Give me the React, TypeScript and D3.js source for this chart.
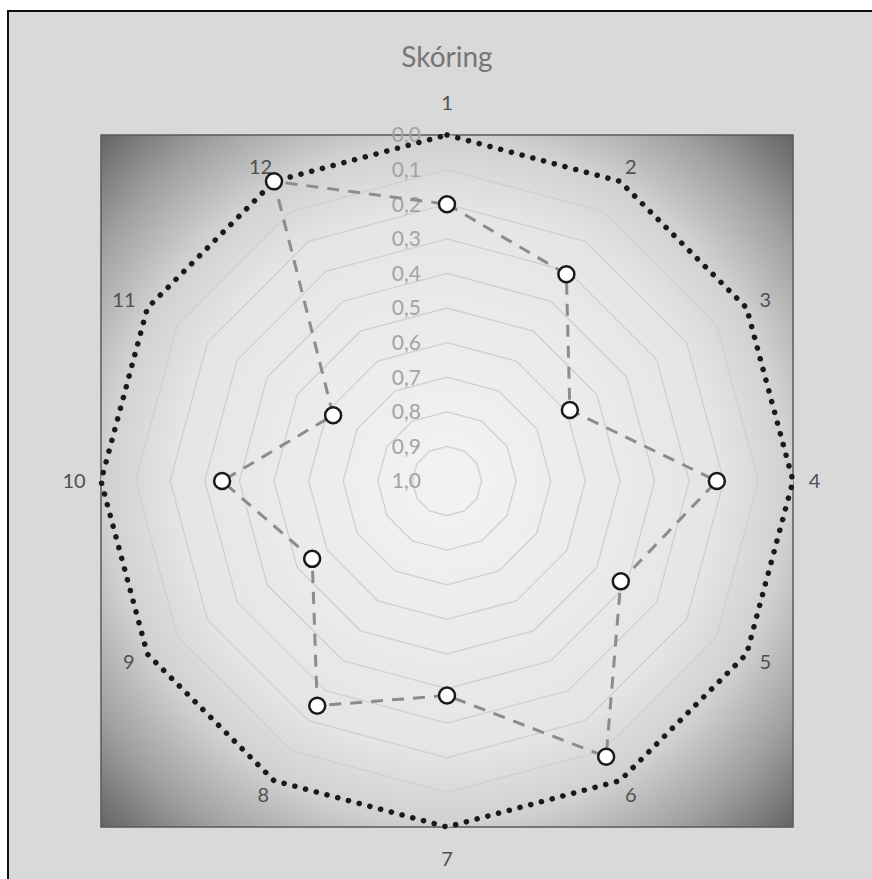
import React from "react";
import * as d3 from "d3";

const categories = ["1", "2", "3", "4", "5", "6", "7", "8", "9", "10", "11", "12"];
const scores = [0.2, 0.31, 0.59, 0.22, 0.42, 0.08, 0.38, 0.25, 0.55, 0.35, 0.62, 0.0];
const baseline = [0, 0, 0, 0, 0, 0, 0, 0, 0, 0, 0, 0];
const ticks = [0, 0.1, 0.2, 0.3, 0.4, 0.5, 0.6, 0.7, 0.8, 0.9, 1.0];
const title = "Skóring";

const W = 872;
const H = 879;
const cx = 447;
const cy = 481;
const R = 346;
const font = "Lato, 'Open Sans', 'DejaVu Sans', sans-serif";

export default function App() {
  // reversed radial axis: 0 sits on the rim, 1 in the centre
  const r = d3.scaleLinear().domain([0, 1]).range([R, 0]);
  const angle = d3
    .scalePoint<string>()
    .domain(categories)
    .range([0, 2 * Math.PI - (2 * Math.PI) / categories.length]);

  const pt = (cat: string, v: number): [number, number] => {
    const a = angle(cat)!;
    return [cx + r(v) * Math.sin(a), cy - r(v) * Math.cos(a)];
  };

  const closed = d3.line<[number, number]>().curve(d3.curveLinearClosed);
  const ringPath = (v: number) => closed(categories.map((c) => pt(c, v)));

  const scorePts = categories.map((c, i) => pt(c, scores[i]));
  const basePts = categories.map((c, i) => pt(c, baseline[i]));
  const fmt = (v: number) => d3.format(".1f")(v).replace(".", ",");

  const px0 = cx - R;
  const py0 = cy - R;

  // category label placement: a fixed gap beyond the rim, pushed out by half the label box
  const labelPos = (c: string): [number, number] => {
    const a = angle(c)!;
    const s = Math.sin(a);
    const co = Math.cos(a);
    const r0 = R + 16;
    const halfW = c.length * 5.5;
    const x = cx + s * (r0 + halfW);
    const y = cy - co * r0 - (Math.abs(co) > 0.9 ? Math.sign(co) * 16 : 0);
    return [x, y];
  };

  return (
    <svg
      width={W}
      height={H}
      style={{ position: "absolute", left: 0, top: 0, display: "block" }}
      fontFamily={font}
    >
      <defs>
        <radialGradient id="plotFill" cx="0.5" cy="0.5" r="0.707">
          <stop offset="0" stopColor="#f3f3f3" />
          <stop offset="0.55" stopColor="#e5e5e5" />
          <stop offset="0.7" stopColor="#d0d0d0" />
          <stop offset="0.85" stopColor="#a0a0a0" />
          <stop offset="1" stopColor="#646464" />
        </radialGradient>
      </defs>

      <rect x={0} y={0} width={W} height={H} fill="#ffffff" />
      <rect x={8} y={11} width={W + 20} height={H + 20} fill="#d9d9d9" stroke="#111" strokeWidth={2} />

      <text x={cx} y={67} textAnchor="middle" fontSize={28} fill="#767676">
        {title}
      </text>

      <rect
        x={px0}
        y={py0}
        width={2 * R}
        height={2 * R}
        fill="url(#plotFill)"
        stroke="#5a5a5a"
        strokeWidth={1.5}
      />

      {ticks
        .filter((t) => t < 1)
        .map((t) => (
          <path key={t} d={ringPath(t)!} fill="none" stroke="#cfcfcf" strokeWidth={1.3} />
        ))}

      {ticks.map((t) => (
        <text
          key={t}
          x={cx - 26}
          y={cy - r(t)}
          dy="0.35em"
          textAnchor="end"
          fontSize={21}
          fill="#a3a3a3"
        >
          {fmt(t)}
        </text>
      ))}

      {categories.map((c) => {
        const [x, y] = labelPos(c);
        return (
          <text key={c} x={x} y={y} dy="0.35em" textAnchor="middle" fontSize={20} fill="#505050">
            {c}
          </text>
        );
      })}

      <path
        d={closed(basePts)!}
        fill="none"
        stroke="#1a1a1a"
        strokeWidth={5.5}
        strokeDasharray="0.1 11"
        strokeLinecap="round"
      />

      <path
        d={closed(scorePts)!}
        fill="none"
        stroke="#8c8c8c"
        strokeWidth={3}
        strokeDasharray="12 9"
      />

      {scorePts.map(([x, y], i) => (
        <circle key={i} cx={x} cy={y} r={8} fill="#ffffff" stroke="#1a1a1a" strokeWidth={2.5} />
      ))}
    </svg>
  );
}
